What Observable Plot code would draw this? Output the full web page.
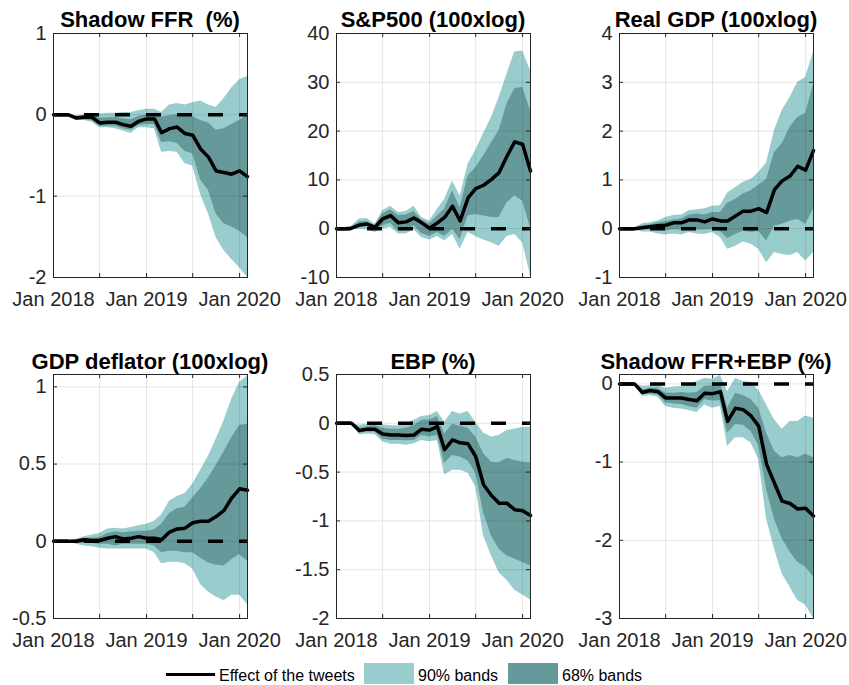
<!DOCTYPE html>
<html>
<head>
<meta charset="utf-8">
<script src="https://cdn.jsdelivr.net/npm/d3@7"></script>
<script src="https://cdn.jsdelivr.net/npm/@observablehq/plot@0.6"></script>
<style>
  html, body { margin: 0; padding: 0; background: #fff; }
  #wrap { position: relative; width: 849px; height: 685px; background: #fff; overflow: hidden;
          font-family: "Liberation Sans", Arial, Helvetica, sans-serif; }
  .panel { position: absolute; }
  .ttl { position: absolute; text-align: center; font-weight: bold; font-size: 22px; line-height: 22px;
         white-space: pre; color: #000; }
  .lg { position: absolute; }
  .lgt { position: absolute; font-size: 16px; line-height: 16px; color: #000; white-space: nowrap; }
</style>
</head>
<body>
<div id="wrap"></div>
<script>
// ---------- data ----------
const months = ["2018-01","2018-02","2018-03","2018-04","2018-05","2018-06","2018-07","2018-08","2018-09",
  "2018-10","2018-11","2018-12","2019-01","2019-02","2019-03","2019-04","2019-05","2019-06","2019-07",
  "2019-08","2019-09","2019-10","2019-11","2019-12","2020-01","2020-02"];
const xTickMonths = ["2018-01","2018-07","2019-01","2019-07","2020-01"];
const xTickLabels = ["Jan 2018","","Jan 2019","","Jan 2020"];

const titles = ["Shadow FFR  (%)","S&P500 (100xlog)","Real GDP (100xlog)","GDP deflator (100xlog)","EBP (%)","Shadow FFR+EBP (%)"];

// Shadow FFR
const ffr_med  = [0,0,0,-0.04,-0.03,-0.03,-0.10,-0.09,-0.09,-0.12,-0.14,-0.08,-0.05,-0.05,-0.22,-0.17,-0.15,-0.23,-0.25,-0.42,-0.52,-0.69,-0.71,-0.73,-0.69,-0.76];
const ffr_lo68 = [0,0,-0.01,-0.06,-0.06,-0.07,-0.14,-0.14,-0.14,-0.17,-0.19,-0.13,-0.12,-0.12,-0.34,-0.33,-0.35,-0.45,-0.48,-0.80,-0.93,-1.22,-1.34,-1.38,-1.43,-1.51];
const ffr_hi68 = [0,0,0.01,-0.02,-0.01,0,-0.04,-0.04,-0.03,-0.05,-0.06,-0.02,0,0.01,-0.03,-0.01,0,-0.02,-0.02,-0.07,-0.10,-0.19,-0.17,-0.12,-0.07,0];
const ffr_lo90 = [0,0,-0.01,-0.07,-0.07,-0.09,-0.16,-0.16,-0.17,-0.20,-0.23,-0.16,-0.16,-0.17,-0.46,-0.45,-0.46,-0.60,-0.63,-0.98,-1.22,-1.51,-1.67,-1.78,-1.88,-2.0];
const ffr_hi90 = [0,0,0.01,-0.01,0,0.01,0.01,0.02,0.02,0.03,0.03,0.05,0.07,0.07,0.03,0.12,0.14,0.12,0.15,0.17,0.12,0.09,0.20,0.33,0.43,0.47];
const ffr_ticks = [-2,-1,0,1];

// S&P500
const sp_med  = [0,0,0.1,0.75,0.95,0.3,2.0,2.7,1.2,1.4,2.2,1.2,0.1,1.2,2.3,4.6,1.6,6.3,8.2,8.9,10.1,11.5,14.9,17.8,17.3,11.8];
const sp_lo68 = [0,0,-0.1,0.3,0.4,-0.4,0.6,1.1,-0.5,-0.4,0.6,-1.0,-1.6,-0.8,-1.6,-0.1,-2.2,2.6,2.9,2.6,2.3,2.3,5.3,6.7,5.7,0.2];
const sp_hi68 = [0,0,0.3,1.4,1.5,0.6,3.0,3.9,2.7,2.8,3.5,1.8,1.0,2.6,4.0,7.7,4.3,10.8,12.5,14.9,17.6,20.1,25.6,28.7,29.0,24.2];
const sp_lo90 = [0,0,-0.2,-0.1,-0.2,-0.8,-0.1,0.3,-1.1,-1.1,-0.2,-1.8,-2.3,-1.6,-2.5,-1.2,-4.2,-0.8,-1.6,-2.3,-2.9,-3.6,-1.6,-1.2,-2.9,-9.6];
const sp_hi90 = [0,0,0.5,2.0,2.1,0.9,3.7,4.6,3.3,3.5,4.6,2.3,1.6,4.0,6.0,9.8,6.7,13.2,16.0,19.5,22.8,26.9,31.7,36.2,36.4,32.4];
const sp_ticks = [-10,0,10,20,30,40];

// Real GDP
const gdp_med  = [0,0,0,0.02,0.04,0.06,0.07,0.12,0.12,0.18,0.18,0.14,0.2,0.16,0.16,0.26,0.36,0.36,0.41,0.33,0.8,0.98,1.08,1.28,1.2,1.6];
const gdp_lo68 = [0,0,-0.01,-0.01,-0.01,-0.02,-0.04,-0.02,-0.02,-0.01,-0.02,-0.02,-0.01,-0.05,-0.2,-0.12,-0.05,-0.08,-0.05,-0.25,0.05,0.09,0.16,0.19,0.09,0.4];
const gdp_hi68 = [0,0,0.01,0.06,0.08,0.12,0.14,0.18,0.2,0.28,0.3,0.28,0.33,0.33,0.52,0.6,0.71,0.78,0.89,1.01,1.56,1.74,2.08,2.28,2.36,2.95];
const gdp_lo90 = [0,0,-0.02,-0.07,-0.07,-0.11,-0.13,-0.11,-0.13,-0.08,-0.11,-0.12,-0.08,-0.18,-0.42,-0.36,-0.27,-0.32,-0.42,-0.70,-0.49,-0.53,-0.55,-0.49,-0.66,-0.49];
const gdp_hi90 = [0,0,0.02,0.1,0.12,0.16,0.23,0.27,0.28,0.37,0.39,0.41,0.46,0.47,0.73,0.84,0.95,1.01,1.15,1.35,2.01,2.42,2.69,3.0,3.1,3.62];
const gdp_ticks = [-1,0,1,2,3,4];

// GDP deflator
const def_med  = [0,0,0,0,0.01,0.005,0.005,0.02,0.03,0.015,0.02,0.03,0.02,0.02,0.01,0.06,0.08,0.085,0.12,0.13,0.13,0.16,0.2,0.28,0.34,0.33];
const def_lo68 = [0,0,-0.003,-0.01,-0.015,-0.015,-0.02,-0.02,-0.03,-0.02,-0.02,-0.02,-0.02,-0.03,-0.075,-0.065,-0.065,-0.075,-0.075,-0.11,-0.14,-0.155,-0.16,-0.12,-0.085,-0.13];
const def_hi68 = [0,0,0.003,0.01,0.02,0.02,0.025,0.05,0.06,0.055,0.06,0.065,0.065,0.075,0.11,0.18,0.21,0.22,0.28,0.34,0.41,0.49,0.58,0.67,0.75,0.76];
const def_lo90 = [0,0,-0.005,-0.02,-0.03,-0.035,-0.045,-0.05,-0.05,-0.05,-0.05,-0.05,-0.05,-0.075,-0.145,-0.135,-0.135,-0.145,-0.18,-0.28,-0.33,-0.36,-0.385,-0.35,-0.35,-0.41];
const def_hi90 = [0,0,0.005,0.015,0.03,0.04,0.05,0.08,0.085,0.08,0.09,0.1,0.11,0.13,0.17,0.26,0.29,0.31,0.37,0.46,0.55,0.66,0.78,0.92,1.03,1.07];
const def_ticks = [-0.5,0,0.5,1];

// EBP
const ebp_med  = [0,0,0,-0.075,-0.06,-0.06,-0.11,-0.12,-0.12,-0.125,-0.12,-0.06,-0.07,-0.035,-0.27,-0.17,-0.2,-0.21,-0.34,-0.63,-0.74,-0.82,-0.82,-0.885,-0.895,-0.945];
const ebp_lo68 = [0,0,0,-0.1,-0.09,-0.09,-0.16,-0.175,-0.175,-0.18,-0.175,-0.125,-0.14,-0.125,-0.41,-0.33,-0.345,-0.385,-0.51,-0.92,-1.155,-1.29,-1.36,-1.39,-1.425,-1.46];
const ebp_hi68 = [0,0,0,-0.05,-0.035,-0.025,-0.05,-0.06,-0.06,-0.05,-0.025,0.03,0.035,0.07,-0.11,-0.01,-0.03,-0.05,-0.14,-0.31,-0.4,-0.405,-0.36,-0.38,-0.4,-0.405];
const ebp_lo90 = [0,0,0,-0.12,-0.11,-0.115,-0.19,-0.215,-0.215,-0.225,-0.21,-0.175,-0.19,-0.175,-0.53,-0.48,-0.48,-0.51,-0.65,-1.155,-1.36,-1.53,-1.61,-1.71,-1.76,-1.81];
const ebp_hi90 = [0,0,0,-0.02,-0.01,0,-0.015,-0.025,-0.025,-0.01,0.03,0.07,0.08,0.12,0.01,0.12,0.095,0.12,0.01,-0.1,-0.14,-0.125,-0.075,-0.06,-0.04,-0.04];
const ebp_ticks = [-2,-1.5,-1,-0.5,0,0.5];

// Shadow FFR + EBP
const cmb_med  = [0,0,0,-0.11,-0.085,-0.1,-0.18,-0.18,-0.18,-0.2,-0.215,-0.12,-0.125,-0.1,-0.48,-0.31,-0.33,-0.41,-0.54,-1.03,-1.27,-1.5,-1.53,-1.6,-1.59,-1.69];
const cmb_lo68 = [0,0,0,-0.14,-0.13,-0.14,-0.245,-0.255,-0.265,-0.29,-0.31,-0.2,-0.22,-0.215,-0.63,-0.52,-0.53,-0.605,-0.79,-1.35,-1.73,-1.98,-2.15,-2.28,-2.34,-2.47];
const cmb_hi68 = [0,0,0,-0.075,-0.055,-0.055,-0.12,-0.12,-0.11,-0.12,-0.11,-0.035,-0.025,0.015,-0.31,-0.12,-0.15,-0.2,-0.31,-0.63,-0.86,-0.945,-0.915,-0.945,-0.9,-0.945];
const cmb_lo90 = [0,0,0,-0.16,-0.15,-0.17,-0.29,-0.31,-0.32,-0.34,-0.365,-0.27,-0.31,-0.29,-0.8,-0.69,-0.69,-0.755,-0.965,-1.73,-2.11,-2.43,-2.6,-2.77,-2.83,-3.0];
const cmb_hi90 = [0,0,0,-0.03,-0.025,-0.015,-0.055,-0.04,-0.035,-0.015,0.03,0.07,0.06,0.11,-0.1,0.07,0.03,0.02,-0.08,-0.27,-0.46,-0.58,-0.48,-0.48,-0.41,-0.44];
const cmb_ticks = [-3,-2,-1,0];

const yDomains = [[-2,1],[-10,40],[-1,4],[-0.5,1.08],[-2,0.5],[-3,0.12]];

const legendLabels = ["Effect of the tweets","90% bands","68% bands"];

// ---------- styling / layout ----------
const LIGHT = "#99cccc", DARK = "#669999";
const colLeft = [53, 336, 619];
const rowTop = [33, 374];
const PW = 194, PH = 244;
const ML = 50, MR = 30, MT = 10, MB = 35;

const parse = d3.utcParse("%Y-%m");
const dates = months.map(parse);
const xTicks = xTickMonths.map(parse);
const tickLabelMap = new Map(xTicks.map((d, i) => [+d, xTickLabels[i]]));

const series = [
  [ffr_med, ffr_lo68, ffr_hi68, ffr_lo90, ffr_hi90, ffr_ticks],
  [sp_med, sp_lo68, sp_hi68, sp_lo90, sp_hi90, sp_ticks],
  [gdp_med, gdp_lo68, gdp_hi68, gdp_lo90, gdp_hi90, gdp_ticks],
  [def_med, def_lo68, def_hi68, def_lo90, def_hi90, def_ticks],
  [ebp_med, ebp_lo68, ebp_hi68, ebp_lo90, ebp_hi90, ebp_ticks],
  [cmb_med, cmb_lo68, cmb_hi68, cmb_lo90, cmb_hi90, cmb_ticks]
];

const wrap = document.getElementById("wrap");

series.forEach(([med, lo68, hi68, lo90, hi90, yticks], k) => {
  const col = k % 3, row = Math.floor(k / 3);
  const data = dates.map((d, i) => ({date: d, med: med[i], lo68: lo68[i], hi68: hi68[i], lo90: lo90[i], hi90: hi90[i]}));
  const tick = PH - 4; // inward tick length 4px
  const chart = Plot.plot({
    width: ML + PW + MR,
    height: MT + PH + MB,
    marginLeft: ML, marginRight: MR, marginTop: MT, marginBottom: MB,
    style: {background: "transparent", overflow: "visible",
            fontFamily: "'Liberation Sans', Arial, Helvetica, sans-serif", fontSize: "20px", color: "#262626"},
    x: {type: "utc", domain: [dates[0], dates[dates.length - 1]], ticks: xTicks,
        tickFormat: d => tickLabelMap.get(+d) ?? "", tickSize: 0, tickPadding: 14, label: null},
    y: {domain: yDomains[k], ticks: yticks, tickFormat: d => String(d), tickSize: 0, tickPadding: 7, label: null},
    marks: [
      Plot.areaY(data, {x: "date", y1: "lo90", y2: "hi90", fill: LIGHT}),
      Plot.areaY(data, {x: "date", y1: "lo68", y2: "hi68", fill: DARK}),
      Plot.ruleX(xTicks, {stroke: "#000", strokeOpacity: 0.1}),
      Plot.ruleY(yticks, {stroke: "#000", strokeOpacity: 0.1}),
      Plot.ruleY([0], {stroke: "#000", strokeWidth: 3.5, strokeDasharray: "15,16"}),
      Plot.line(data, {x: "date", y: "med", stroke: "#000", strokeWidth: 3.5, strokeLinejoin: "round"}),
      Plot.ruleX(xTicks, {stroke: "#262626", insetTop: tick}),
      Plot.ruleX(xTicks, {stroke: "#262626", insetBottom: tick}),
      Plot.ruleY(yticks, {stroke: "#262626", insetRight: PW - 4}),
      Plot.ruleY(yticks, {stroke: "#262626", insetLeft: PW - 4}),
      Plot.frame({stroke: "#262626", strokeWidth: 1})
    ]
  });
  chart.classList.add("panel");
  chart.style.left = (colLeft[col] - ML) + "px";
  chart.style.top = (rowTop[row] - MT) + "px";
  wrap.appendChild(chart);

  const t = document.createElement("div");
  t.className = "ttl";
  t.textContent = titles[k];
  t.style.left = (colLeft[col] - 60) + "px";
  t.style.width = (PW + 120) + "px";
  t.style.top = (row === 0 ? 8.7 : 351.4) + "px";
  wrap.appendChild(t);
});

// ---------- legend ----------
function addBox(left, top, w, h, color) {
  const b = document.createElement("div");
  b.className = "lg";
  Object.assign(b.style, {left: left + "px", top: top + "px", width: w + "px", height: h + "px", background: color});
  wrap.appendChild(b);
}
function addText(left, top, s) {
  const t = document.createElement("div");
  t.className = "lgt";
  t.textContent = s;
  Object.assign(t.style, {left: left + "px", top: top + "px"});
  wrap.appendChild(t);
}
addBox(166, 672.5, 49, 3.5, "#000");
addText(219, 667.5, legendLabels[0]);
addBox(364, 663, 50, 21, LIGHT);
addText(418, 667.5, legendLabels[1]);
addBox(508, 663, 50, 21, DARK);
addText(562, 667.5, legendLabels[2]);
</script>
</body>
</html>
